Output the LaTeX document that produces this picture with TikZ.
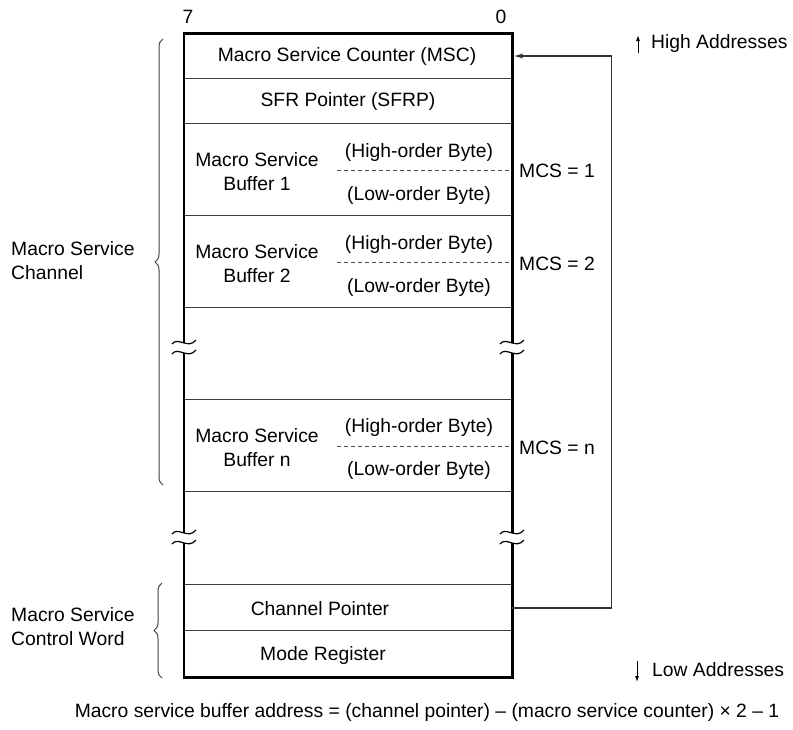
\documentclass[tikz,border=0pt]{standalone}
\usepackage{fontspec}
\setmainfont{Liberation Sans}
\usetikzlibrary{arrows.meta,decorations.pathreplacing}
\newcommand\brkmark[2]{%
  \fill[white] ({#1-2.5},{#2-5}) rectangle ({#1+2.5},{#2+5});
  \draw[brk] ({#1-12},{#2-4}) .. controls ({#1-6},{#2-12}) and ({#1+4},{#2+2}) .. ({#1+12},{#2-8});
  \draw[brk] ({#1-12},{#2+6}) .. controls ({#1-6},{#2-2}) and ({#1+4},{#2+12}) .. ({#1+12},{#2+2});
}
\begin{document}
\begin{tikzpicture}[x=1pt,y=-1pt,
  every node/.style={font=\fontsize{19.3}{24}\selectfont, inner sep=0pt},
  rowbox/.style={draw=none, minimum width=328pt, inner sep=0pt},
  frame/.style={line width=2.6pt, black},
  sep/.style={line width=1pt, black!75},
  dashsep/.style={line width=1pt, black!70, dash pattern=on 4pt off 3pt},
  link/.style={line width=1.1pt, black!80},
  brc/.style={decorate, decoration={brace, amplitude=8pt}, line width=1pt, black!75},
  brk/.style={line width=1.2pt, black},
  addr/.style={line width=1pt, -{Latex[length=6pt,width=4pt]}}]
\useasboundingbox (0,0) rectangle (793,729);

% rows
\node[rowbox, minimum height=45pt]   (msc)  at (348,56)     {};
\node[rowbox, minimum height=45.5pt] (sfrp) at (348,101.25) {};
\node[rowbox, minimum height=92pt]   (buf1) at (348,170)    {};
\node[rowbox, minimum height=92pt]   (buf2) at (348,262)    {};
\node[rowbox, minimum height=92pt]   (gapa) at (348,354)    {};
\node[rowbox, minimum height=92pt]   (bufn) at (348,446)    {};
\node[rowbox, minimum height=93pt]   (gapb) at (348,538.5)  {};
\node[rowbox, minimum height=46pt]   (cp)   at (348,608)    {};
\node[rowbox, minimum height=46pt]   (mr)   at (348,654)    {};

% separators
\foreach \r in {sfrp,buf1,buf2,bufn,cp,mr}
  \draw[sep] (\r.north west) -- (\r.north east);
\draw[sep] (gapa.north west) -- (gapa.north east);
\draw[sep] (gapb.north west) -- (gapb.north east);
\draw[dashsep] (337,170) -- (buf1.east);
\draw[dashsep] (337,262) -- (buf2.east);
\draw[dashsep] (337,446) -- (bufn.east);

% frame
\draw[frame] (msc.north west) rectangle (mr.south east);

% breaks
\brkmark{184}{348}
\brkmark{512}{348}
\brkmark{184}{538}
\brkmark{512}{538}

% texts
\node (b7) at (188,17) {7};
\node (b0) at (501,17) {0};
\node (tmsc)  at (347,57)  {Macro Service Counter (MSC)};
\node (tsfrp) at (348,102) {SFR Pointer (SFRP)};

\node[align=center] (lb1) at (257,172) {Macro Service\\Buffer 1};
\node (hb1) at (419,153) {(High-order Byte)};
\node (lo1) at (419,196) {(Low-order Byte)};
\node[anchor=west] (mcs1) at (519,171) {MCS = 1};

\node[align=center] (lb2) at (257,264) {Macro Service\\Buffer 2};
\node (hb2) at (419,245) {(High-order Byte)};
\node (lo2) at (419,288) {(Low-order Byte)};
\node[anchor=west] (mcs2) at (519,264) {MCS = 2};

\node[align=center] (lbn) at (257,448) {Macro Service\\Buffer n};
\node (hbn) at (419,428) {(High-order Byte)};
\node (lon) at (419,471) {(Low-order Byte)};
\node[anchor=west] (mcsn) at (519,448) {MCS = n};

\node (tcp) at (320,609) {Channel Pointer};
\node (tmr) at (323,655) {Mode Register};

% connector
\draw[link, -{Latex[length=9pt,width=5pt]}, shorten >=1.3pt] (cp.east) -- ++(99,0) |- (msc.east);

% braces and left labels
\draw[brc] (163,485) -- (163,39);
\draw[brc] (162,678) -- (162,583);
\node[anchor=west, align=left] (lch) at (11,261) {Macro Service\\Channel};
\node[anchor=west, align=left] (lcw) at (11,627) {Macro Service\\Control Word};

% address direction
\node[anchor=west] (hi) at (651,44) {High Addresses};
\node[anchor=west] (lo) at (652,670) {Low Addresses};
\coordinate (hiA) at (638,53);
\coordinate (hiB) at (638,35);
\coordinate (loA) at (637,661);
\coordinate (loB) at (637,682);
\draw[addr] (hiA) -- (hiB);
\draw[addr] (loA) -- (loB);

% formula
\node (formula) at (427,712) {Macro service buffer address = (channel pointer) – (macro service counter) × 2 – 1};
\end{tikzpicture}
\end{document}
